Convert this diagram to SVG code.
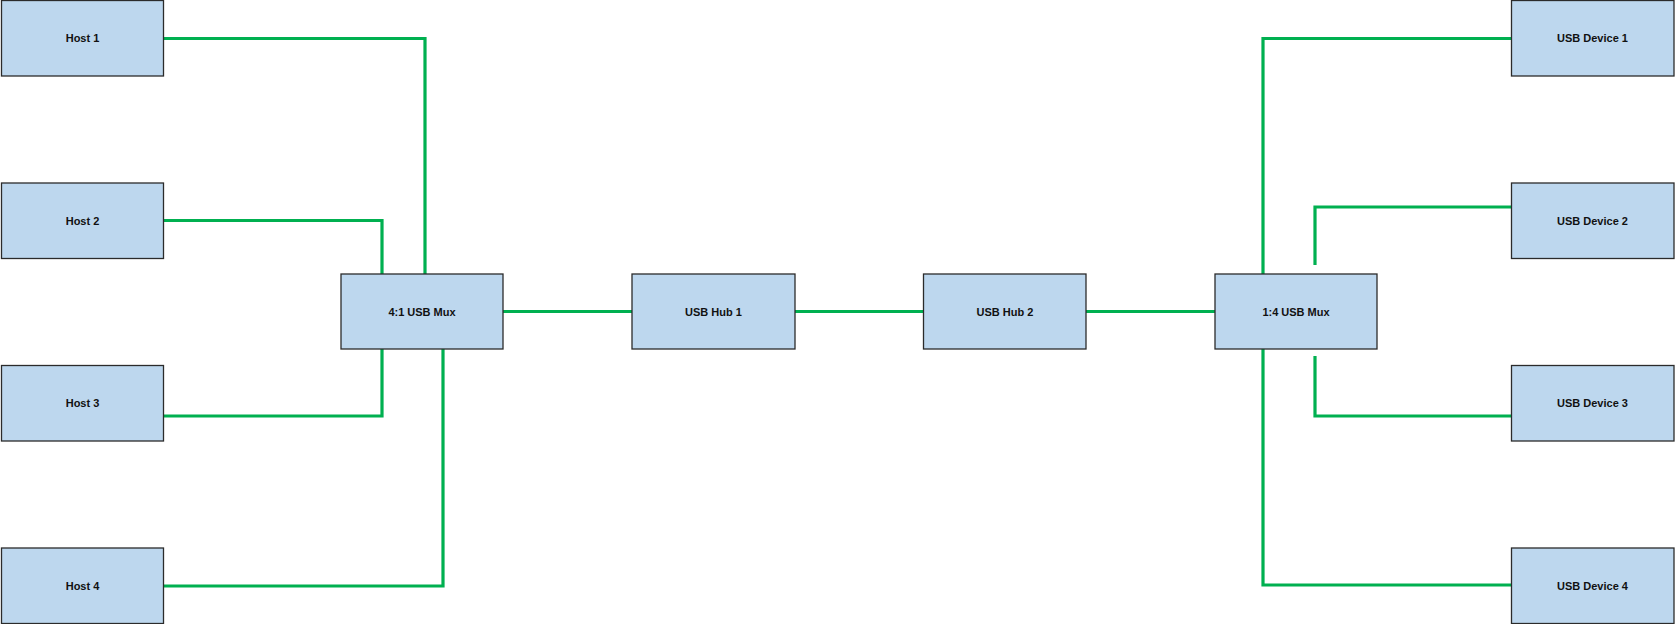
<svg xmlns="http://www.w3.org/2000/svg" width="1675" height="624" viewBox="0 0 1675 624">
<style>
.box{fill:#BDD7EE;stroke:#2b2b2b;stroke-width:1.3}
.lbl{font-family:"Liberation Sans",Arial,sans-serif;font-size:11px;font-weight:bold;fill:#111;text-anchor:middle}
.wire{fill:none;stroke:#00B050;stroke-width:3.2;stroke-linejoin:miter}
</style>
<rect width="1675" height="624" fill="#fff"/>
<g id="connectors">
<polyline class="wire" points="163,38.5 425,38.5 425,274"/>
<polyline class="wire" points="163,220.5 382,220.5 382,274"/>
<polyline class="wire" points="163,416 382,416 382,349"/>
<polyline class="wire" points="163,586 443,586 443,349"/>
<line class="wire" x1="503" y1="311.5" x2="632" y2="311.5"/>
<line class="wire" x1="795" y1="311.5" x2="924" y2="311.5"/>
<line class="wire" x1="1086" y1="311.5" x2="1215" y2="311.5"/>
<polyline class="wire" points="1511,38.5 1263,38.5 1263,274"/>
<polyline class="wire" points="1511,207 1315,207 1315,265"/>
<polyline class="wire" points="1511,416 1315,416 1315,356"/>
<polyline class="wire" points="1511,585 1263,585 1263,349"/>
</g>
<g id="host1"><rect class="box" x="1.5" y="0.5" width="162" height="75.5"/><text class="lbl" x="82.5" y="42">Host 1</text></g>
<g id="host2"><rect class="box" x="1.5" y="183" width="162" height="75.5"/><text class="lbl" x="82.5" y="225">Host 2</text></g>
<g id="host3"><rect class="box" x="1.5" y="365.5" width="162" height="75.5"/><text class="lbl" x="82.5" y="407">Host 3</text></g>
<g id="host4"><rect class="box" x="1.5" y="548" width="162" height="75.5"/><text class="lbl" x="82.5" y="590">Host 4</text></g>
<g id="mux41"><rect class="box" x="341" y="274" width="162" height="75"/><text class="lbl" x="422" y="315.5">4:1 USB Mux</text></g>
<g id="hub1"><rect class="box" x="632" y="274" width="163" height="75"/><text class="lbl" x="713.5" y="315.5">USB Hub 1</text></g>
<g id="hub2"><rect class="box" x="923.5" y="274" width="162.5" height="75"/><text class="lbl" x="1005" y="315.5">USB Hub 2</text></g>
<g id="mux14"><rect class="box" x="1215" y="274" width="162" height="75"/><text class="lbl" x="1296" y="315.5">1:4 USB Mux</text></g>
<g id="dev1"><rect class="box" x="1511.5" y="0.5" width="162.5" height="75.5"/><text class="lbl" x="1592.5" y="42">USB Device 1</text></g>
<g id="dev2"><rect class="box" x="1511.5" y="183" width="162.5" height="75.5"/><text class="lbl" x="1592.5" y="225">USB Device 2</text></g>
<g id="dev3"><rect class="box" x="1511.5" y="365.5" width="162.5" height="75.5"/><text class="lbl" x="1592.5" y="407">USB Device 3</text></g>
<g id="dev4"><rect class="box" x="1511.5" y="548" width="162.5" height="75.5"/><text class="lbl" x="1592.5" y="590">USB Device 4</text></g>
</svg>
